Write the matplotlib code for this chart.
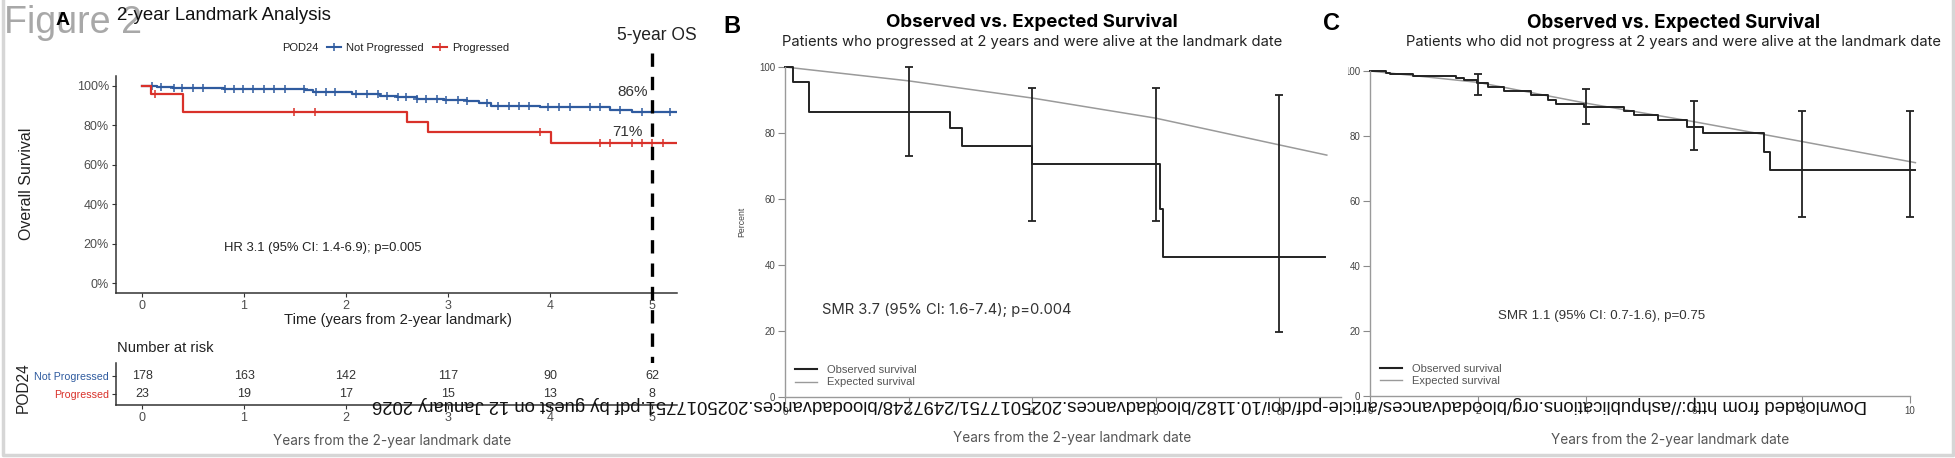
import matplotlib
matplotlib.use('Agg')
import matplotlib.pyplot as plt
from matplotlib.lines import Line2D
from matplotlib import transforms
import numpy as np

plt.rcParams['font.family'] = ['Liberation Sans', 'DejaVu Sans']

# ---- data ----
# panel A: 2-year landmark KM curves (percent)
a_blue_t = [0, 0.15, 0.30, 0.80, 1.60, 1.68, 2.06, 2.33, 2.50, 2.70, 2.96, 3.19, 3.30, 3.42, 3.90, 4.59, 4.80, 5.24]
a_blue_s = [100, 99.5, 99.0, 98.6, 97.8, 97.1, 95.8, 95.1, 94.6, 93.4, 92.9, 92.4, 91.2, 90.0, 89.2, 87.8, 86.6, 86.6]
a_blue_cens = [0.10, 0.19, 0.31, 0.39, 0.50, 0.60, 0.81, 0.90, 0.99, 1.09, 1.20, 1.29, 1.40, 1.59, 1.71, 1.80,
               1.89, 2.10, 2.21, 2.31, 2.40, 2.51, 2.59, 2.70, 2.78, 2.89, 2.98, 3.10, 3.19, 3.38, 3.49, 3.60,
               3.70, 3.79, 3.98, 4.09, 4.20, 4.39, 4.49, 4.69, 4.90, 5.18]
a_red_t = [0, 0.09, 0.40, 2.60, 2.80, 4.01, 5.24]
a_red_s = [100, 95.7, 86.6, 81.6, 76.5, 70.9, 70.9]
a_red_cens = [0.13, 1.49, 1.70, 3.90, 4.49, 4.59, 4.80, 4.90, 5.00, 5.11]

risk_times = [0, 1, 2, 3, 4, 5]
risk_not = [178, 163, 142, 117, 90, 62]
risk_prog = [23, 19, 17, 15, 13, 8]

# panel B: progressed
b_obs_t = [0, 0.13, 0.39, 2.67, 2.86, 4.00, 6.07, 6.12, 8.74]
b_obs_s = [100, 95.5, 86.4, 81.5, 76.2, 70.7, 57.0, 42.4, 42.4]
b_exp_t = [0, 2, 4, 6, 8, 8.77]
b_exp_s = [100, 95.8, 90.6, 84.5, 76.4, 73.3]
b_err_t = [2, 4, 6, 8]
b_err_lo = [73.0, 53.3, 53.3, 19.7]
b_err_hi = [100, 93.6, 93.6, 91.5]

# panel C: not progressed
c_obs_t = [0, 0.30, 0.37, 0.80, 1.60, 1.75, 1.98, 2.18, 2.48, 2.98, 3.30, 3.44, 3.96, 4.70, 4.89,
           5.33, 5.87, 6.17, 7.30, 7.41, 10.1]
c_obs_s = [100, 99.5, 99.1, 98.5, 97.8, 97.2, 96.3, 95.1, 93.8, 92.6, 91.1, 89.8, 88.9, 87.8, 86.4,
           84.9, 82.8, 80.9, 75.1, 69.5, 69.5]
c_exp_t = [0, 2, 4, 6, 8, 10.1]
c_exp_s = [100, 96.5, 90.1, 84.4, 78.3, 71.8]
c_err_t = [2, 4, 6, 8, 10]
c_err_lo = [92.6, 83.7, 75.7, 55.1, 55.1]
c_err_hi = [99.1, 94.5, 90.8, 87.7, 87.7]

BLUE = '#2f5b9f'
RED = '#d9312a'
W, H = 1956, 458

fig = plt.figure(figsize=(W / 100, H / 100), dpi=100)
renderer = fig.canvas.get_renderer()


def box(x0, y0, x1, y1):
    return [x0 / W, 1 - y1 / H, (x1 - x0) / W, (y1 - y0) / H]


def put(x, y, s, fit=None, **kw):
    t = fig.text(x / W, 1 - y / H, s, **kw)
    if fit:
        bb = t.get_window_extent(renderer)
        t.set_fontsize(t.get_fontsize() * fit / bb.width)
    return t


def s_at(ts, ss, tc):
    idx = np.searchsorted(ts, tc, side='right') - 1
    return np.asarray(ss)[idx]


# ---------------- panel A ----------------
axA = fig.add_axes(box(116, 76, 677, 293))
axA.step(a_blue_t, a_blue_s, where='post', color=BLUE, lw=1.6)
axA.plot(a_blue_cens, s_at(a_blue_t, a_blue_s, a_blue_cens), ls='none', marker='+', ms=6, mew=1.1, color=BLUE)
axA.step(a_red_t, a_red_s, where='post', color=RED, lw=1.6)
axA.plot(a_red_cens, s_at(a_red_t, a_red_s, a_red_cens), ls='none', marker='+', ms=6, mew=1.1, color=RED)
axA.set_xlim(-0.255, 5.245)
axA.set_ylim(-5, 105)
axA.set_yticks(range(0, 101, 20))
axA.set_yticklabels([f'{v}%' for v in range(0, 101, 20)])
axA.set_xticks(risk_times)
for s in ['top', 'right']:
    axA.spines[s].set_visible(False)
for s in ['left', 'bottom']:
    axA.spines[s].set_color('#333333')
    axA.spines[s].set_linewidth(1.1)
axA.tick_params(labelsize=9, labelcolor='#4d4d4d', length=3, color='#333333', pad=2)

# risk table
axR = fig.add_axes(box(116, 363, 677, 405))
for i, t in enumerate(risk_times):
    axR.text(t, 2, str(risk_not[i]), ha='center', va='center', fontsize=9, color='#333333')
    axR.text(t, 1, str(risk_prog[i]), ha='center', va='center', fontsize=9, color='#333333')
axR.set_xlim(-0.255, 5.245)
axR.set_ylim(0.39, 2.72)
axR.set_xticks(risk_times)
axR.set_yticks([1, 2])
axR.set_yticklabels(['Progressed', 'Not Progressed'], fontsize=7.7)
axR.get_yticklabels()[0].set_color(RED)
axR.get_yticklabels()[1].set_color(BLUE)
for s in ['top', 'right']:
    axR.spines[s].set_visible(False)
for s in ['left', 'bottom']:
    axR.spines[s].set_color('#333333')
    axR.spines[s].set_linewidth(1.1)
axR.tick_params(axis='x', labelsize=9, labelcolor='#4d4d4d', length=3, color='#333333', pad=2)
axR.tick_params(axis='y', length=3, color='#333333', pad=2)

# 5-year dashed line
tr = transforms.blended_transform_factory(axA.transData, fig.transFigure)
axA.plot([5, 5], [1 - 53 / H, 1 - 405 / H], transform=tr, clip_on=False, color='black',
         lw=2.4, ls=(0, (4, 3)), zorder=5)

put(4, 33, 'Figure 2', fit=138, fontsize=26, color='#a8a8a8', va='baseline', zorder=1)
put(56, 25, 'A', fontsize=14, fontweight='bold', va='baseline', zorder=3)
put(117, 16, '2-year Landmark Analysis', fit=214, fontsize=13, va='center', color='#111111', zorder=2)
put(282, 48, 'POD24', fontsize=8, va='center', color='#222222')
hA = [Line2D([], [], color=BLUE, lw=1.5, marker='+', ms=6, mew=1.1),
      Line2D([], [], color=RED, lw=1.5, marker='+', ms=6, mew=1.1)]
fig.legend(hA, ['Not Progressed', 'Progressed'], loc='center left', bbox_to_anchor=(327 / W, 1 - 48 / H),
           ncol=2, frameon=False, fontsize=8, handlelength=1.3, handletextpad=0.45, columnspacing=0.8,
           borderpad=0, borderaxespad=0, labelcolor='#222222')
put(657, 35, '5-year OS', fit=80, fontsize=12, ha='center', va='center', color='#222222')
put(648, 92, '86%', fontsize=11, ha='right', va='center', color='#333333')
put(643, 132, '71%', fontsize=11, ha='right', va='center', color='#333333')
put(224, 248, 'HR 3.1 (95% CI: 1.4-6.9); p=0.005', fit=197, fontsize=8.5, va='center', color='#222222')
put(27, 184, 'Overall Survival', fontsize=11.5, rotation=90, ha='center', va='center', color='#222222')
put(398, 320, 'Time (years from 2-year landmark)', fit=228, fontsize=10, ha='center', va='center',
    color='#222222')
put(117, 348, 'Number at risk', fit=96, fontsize=10, va='center', color='#222222')
put(23, 388, 'POD24', fontsize=11.2, rotation=90, ha='center', va='center', color='#222222')
put(392, 441, 'Years from the 2-year landmark date', fit=239, fontsize=9, ha='center', va='center',
    color='#555555', family=['Inter', 'DejaVu Sans'])


# ---------------- panels B and C ----------------
def surv_panel(ax, obs_t, obs_s, exp_t, exp_s, err_t, err_lo, err_hi, xmax, xticks):
    ax.plot(exp_t, exp_s, color='#9a9a9a', lw=1.1, clip_on=False)
    ax.step(obs_t, obs_s, where='post', color='#222222', lw=1.4, clip_on=False)
    ax.vlines(err_t, err_lo, err_hi, color='#222222', lw=1.3, clip_on=False)
    ax.plot(err_t, err_lo, ls='none', marker='_', ms=6, mew=1.3, color='#222222', clip_on=False)
    ax.plot(err_t, err_hi, ls='none', marker='_', ms=6, mew=1.3, color='#222222', clip_on=False)
    ax.set_xlim(0, xmax)
    ax.set_ylim(0, 100)
    ax.set_xticks(xticks)
    ax.set_yticks(range(0, 101, 20))
    for s in ['top', 'right']:
        ax.spines[s].set_visible(False)
    for s in ['left', 'bottom']:
        ax.spines[s].set_color('#9a9a9a')
        ax.spines[s].set_linewidth(1.0)
    ax.tick_params(labelsize=7, labelcolor='#444444', length=5, width=0.8, color='#8a8a8a', pad=2)
    hl = [Line2D([], [], color='#222222', lw=1.5), Line2D([], [], color='#9a9a9a', lw=1.0)]
    return hl


axB = fig.add_axes(box(785, 67, 1341, 397))
hB = surv_panel(axB, b_obs_t, b_obs_s, b_exp_t, b_exp_s, b_err_t, b_err_lo, b_err_hi, 9, [0, 2, 4, 6, 8])
axB.legend(hB, ['Observed survival', 'Expected survival'], loc='center left',
           bbox_to_anchor=(795 / W, 1 - 376 / H), bbox_transform=fig.transFigure, frameon=False,
           fontsize=8, handlelength=2.0, handletextpad=0.9, labelspacing=0.25, borderpad=0,
           borderaxespad=0, labelcolor='#555555')

axC = fig.add_axes(box(1370, 71, 1910, 396))
hC = surv_panel(axC, c_obs_t, c_obs_s, c_exp_t, c_exp_s, c_err_t, c_err_lo, c_err_hi, 10,
                [0, 2, 4, 6, 8, 10])
axC.legend(hC, ['Observed survival', 'Expected survival'], loc='center left',
           bbox_to_anchor=(1380 / W, 1 - 375 / H), bbox_transform=fig.transFigure, frameon=False,
           fontsize=8, handlelength=2.0, handletextpad=0.9, labelspacing=0.25, borderpad=0,
           borderaxespad=0, labelcolor='#555555')
# panel C was cropped on the left in the source figure
clip = transforms.TransformedBbox(transforms.Bbox([[1348 / W, 0], [1, 1]]), fig.transFigure)
for lab in axC.get_yticklabels():
    lab.set_clip_box(clip)
    lab.set_clip_on(True)

SANS2 = ['Inter', 'DejaVu Sans']
put(723, 33, 'B', fontsize=17, fontweight='bold', va='baseline')
put(1323, 30, 'C', fontsize=17, fontweight='bold', va='baseline')
put(1032, 22, 'Observed vs. Expected Survival', fit=293, fontsize=11, fontweight='bold',
    ha='center', va='center', family=SANS2)
put(1674, 22, 'Observed vs. Expected Survival', fit=294, fontsize=11, fontweight='bold',
    ha='center', va='center', family=SANS2)
put(1032, 42, 'Patients who progressed at 2 years and were alive at the landmark date', fit=504,
    fontsize=10, ha='center', va='center', color='#222222', family=SANS2)
put(1674, 42, 'Patients who did not progress at 2 years and were alive at the landmark date', fit=538,
    fontsize=10, ha='center', va='center', color='#222222', family=SANS2)
put(742, 222, 'Percent', fontsize=6.2, rotation=90, ha='center', va='center', color='#444444')
put(822, 310, 'SMR 3.7 (95% CI: 1.6-7.4); p=0.004', fit=251, fontsize=9, va='center', color='#333333',
    family=SANS2)
put(1498, 316, 'SMR 1.1 (95% CI: 0.7-1.6), p=0.75', fit=206, fontsize=8, va='center', color='#333333')
put(1072, 438, 'Years from the 2-year landmark date', fit=239, fontsize=9, ha='center', va='center',
    color='#555555', family=SANS2)
put(1670, 440, 'Years from the 2-year landmark date', fit=239, fontsize=9, ha='center', va='center',
    color='#555555', family=SANS2)

# watermark (upside down in the source)
put(1120, 404, 'Downloaded from http://ashpublications.org/bloodadvances/article-pdf/doi/10.1182/'
    'bloodadvances.2025017751/2497248/bloodadvances.2025017751.pdf by guest on 12 January 2026',
    fit=1500, fontsize=11, rotation=180, ha='center', va='center', color='#111111', zorder=10)

# light frame around the figure
fig.add_artist(Line2D([3 / W, 3 / W, 1 - 3 / W, 1 - 3 / W], [1, 3 / H, 3 / H, 1],
                      transform=fig.transFigure, color='#d6d6d6', lw=2.5))

fig.savefig('out.png', dpi=100)
